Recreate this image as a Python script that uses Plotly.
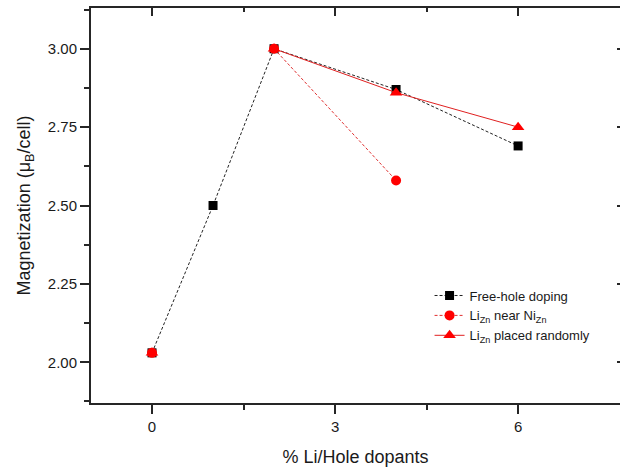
import plotly.graph_objects as go

# Dopant concentration (%) and magnetization (mu_B per cell)
free_hole_x = [0, 1, 2, 4, 6]
free_hole_y = [2.03, 2.50, 3.00, 2.87, 2.69]

# Li_Zn near Ni_Zn: the 0 % point is a lone marker, the line starts at 2 %
li_near_x = [0, None, 2, 4]
li_near_y = [2.03, None, 3.00, 2.58]

# Li_Zn placed randomly
li_rand_x = [0, None, 2, 4, 6]
li_rand_y = [2.03, None, 3.00, 2.86, 2.75]

x_ticks = [0, 3, 6]
x_minor = [1.5, 4.5]
y_ticks = [2.00, 2.25, 2.50, 2.75, 3.00]
y_tick_text = ["2.00", "2.25", "2.50", "2.75", "3.00"]
y_minor = [1.875, 2.125, 2.375, 2.625, 2.875, 3.125]

X_RANGE = [-1.0, 7.67]
Y_RANGE = [1.87, 3.13]

FONT = "Liberation Sans, Arial, sans-serif"
AXIS_COLOR = "#262626"
TEXT_COLOR = "#1a1a1a"

fig = go.Figure()

fig.add_trace(go.Scatter(
    x=free_hole_x, y=free_hole_y, mode="lines+markers",
    name="Free-hole doping",
    line=dict(color="#222222", width=1, dash="3px,2px"),
    marker=dict(symbol="square", size=9, color="black"),
))
fig.add_trace(go.Scatter(
    x=li_near_x, y=li_near_y, mode="lines+markers", connectgaps=False,
    name="Li<sub>Zn</sub> near Ni<sub>Zn</sub>",
    line=dict(color="#e03030", width=1, dash="3px,2px"),
    marker=dict(symbol="circle", size=10, color="#ff0000"),
))
fig.add_trace(go.Scatter(
    x=li_rand_x, y=li_rand_y, mode="lines+markers", connectgaps=False,
    name="Li<sub>Zn</sub> placed randomly",
    line=dict(color="#e02020", width=1),
    marker=dict(symbol="triangle-up", size=11, color="#ff0000"),
))

tick_font = dict(family=FONT, size=15, color=TEXT_COLOR)

fig.update_layout(
    width=620, height=470,
    margin=dict(l=91, r=0, t=8, b=67),
    paper_bgcolor="white", plot_bgcolor="white",
    font=dict(family=FONT, color=TEXT_COLOR),
    showlegend=True,
    legend=dict(
        x=0.64, y=0.31, xanchor="left", yanchor="top",
        font=dict(family=FONT, size=13, color=TEXT_COLOR),
        bgcolor="rgba(0,0,0,0)", itemwidth=30, tracegroupgap=0,
    ),
    xaxis=dict(
        range=X_RANGE, tickmode="array", tickvals=x_ticks,
        ticks="outside", ticklen=9, tickwidth=1.5, tickcolor=AXIS_COLOR,
        minor=dict(tickmode="array", tickvals=x_minor, ticks="outside",
                   ticklen=5, tickwidth=1.5, tickcolor=AXIS_COLOR),
        showline=True, linewidth=2, linecolor=AXIS_COLOR, mirror=True,
        showgrid=False, zeroline=False, tickfont=tick_font,
        title=dict(text="% Li/Hole dopants", standoff=16,
                   font=dict(family=FONT, size=18, color=TEXT_COLOR)),
    ),
    yaxis=dict(
        range=Y_RANGE, tickmode="array", tickvals=y_ticks, ticktext=y_tick_text,
        ticks="outside", ticklen=9, tickwidth=1.5, tickcolor=AXIS_COLOR,
        minor=dict(tickmode="array", tickvals=y_minor, ticks="outside",
                   ticklen=5, tickwidth=1.5, tickcolor=AXIS_COLOR),
        showline=True, linewidth=2, linecolor=AXIS_COLOR, mirror=False,
        showgrid=False, zeroline=False, tickfont=tick_font,
        title=dict(text="Magnetization (\u03bc<sub>B</sub>/cell)", standoff=12,
                   font=dict(family=FONT, size=18, color=TEXT_COLOR)),
    ),
    # inward-pointing ticks on the top and right frame edges
    xaxis2=dict(
        overlaying="x", side="top", anchor="y", range=X_RANGE,
        tickmode="array", tickvals=x_ticks, ticks="inside", ticklen=8,
        tickwidth=1.5, tickcolor=AXIS_COLOR,
        minor=dict(tickmode="array", tickvals=x_minor, ticks="inside",
                   ticklen=4, tickwidth=1.5, tickcolor=AXIS_COLOR),
        showticklabels=False, showline=False, showgrid=False, zeroline=False,
    ),
    yaxis2=dict(
        overlaying="y", side="right", anchor="x", range=Y_RANGE,
        tickmode="array", tickvals=y_ticks, ticks="inside", ticklen=3,
        tickwidth=1.5, tickcolor=AXIS_COLOR,
        showticklabels=False, showline=False, showgrid=False, zeroline=False,
    ),
)

# invisible trace so the overlay axes are drawn
fig.add_trace(go.Scatter(x=[None], y=[None], xaxis="x2", yaxis="y2",
                         showlegend=False, hoverinfo="skip"))

fig.write_html("out.html")
